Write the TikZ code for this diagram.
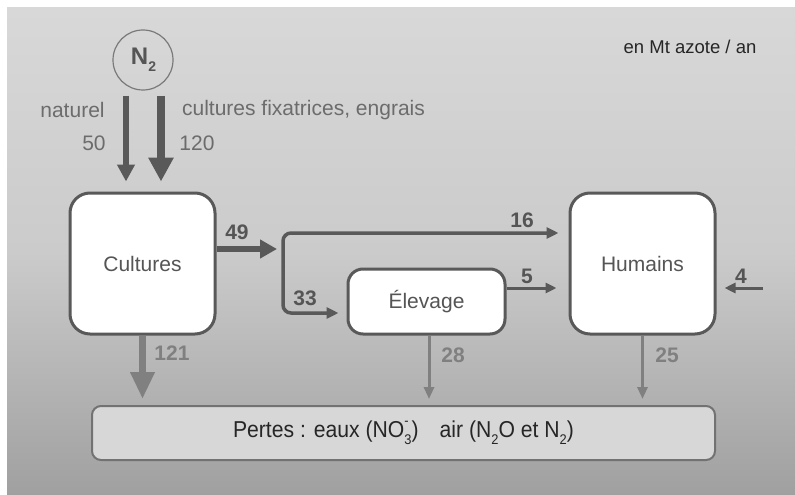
\documentclass[tikz,border=0pt]{standalone}
\usepackage{fontspec}
\usepackage{graphicx}
\setmainfont{Liberation Sans}
\usetikzlibrary{arrows.meta,calc}
\definecolor{bgTop}{HTML}{D8D8D8}
\definecolor{bgMid}{HTML}{CBCBCB}
\definecolor{bgBot}{HTML}{A0A0A0}
\definecolor{dk}{HTML}{595959}
\definecolor{boxtxt}{HTML}{555555}
\definecolor{lbltxt}{HTML}{6C6C6C}
\definecolor{bot}{HTML}{808080}
\definecolor{pfill}{HTML}{D7D7D7}
\definecolor{pline}{HTML}{727272}
\definecolor{circ}{HTML}{7A7A7A}
\definecolor{txtdark}{HTML}{262626}
\newcommand\subt[1]{\raisebox{-0.3em}{\fontsize{14}{14}\selectfont #1}}
\newcommand\subsup[2]{\rlap{\raisebox{0.55em}{\fontsize{14}{14}\selectfont #2}}\raisebox{-0.3em}{\fontsize{14}{14}\selectfont #1}}
\begin{document}
\begin{tikzpicture}[x=1pt,y=-1pt,
  bigbox/.style={draw=dk, line width=3pt, fill=white, rounded corners=20pt,
    text=boxtxt, font=\fontsize{21}{25}\selectfont, inner sep=0pt},
  pertesbox/.style={draw=pline, line width=2pt, fill=pfill, rounded corners=9pt,
    text=txtdark, font=\fontsize{23}{27}\selectfont, inner sep=0pt},
  lbl/.style={text=lbltxt, font=\fontsize{21}{25}\selectfont, inner sep=0pt},
  blbl/.style={text=boxtxt, font=\fontsize{21}{25}\selectfont\bfseries, inner sep=0pt},
  botlbl/.style={text=bot, font=\fontsize{21}{25}\selectfont\bfseries, inner sep=0pt},
  arrtopa/.style={draw=dk, line width=6pt, -{Triangle[length=17pt,width=17pt]}},
  arrtopb/.style={draw=dk, line width=8pt, -{Triangle[length=24pt,width=24pt]}},
  arrfortynine/.style={draw=dk, line width=6pt, -{Triangle[length=17pt,width=18pt]}},
  conn/.style={draw=dk, line width=3.5pt, {Triangle[length=12pt,width=11pt]}-{Triangle[length=12pt,width=11pt]}, rounded corners=8pt},
  thinarr/.style={draw=dk, line width=3pt, -{Triangle[length=11pt,width=10pt]}},
  arrbig/.style={draw=bot, line width=7pt, -{Triangle[length=27pt,width=23pt]}},
  thinbot/.style={draw=bot, line width=3pt, -{Triangle[length=12pt,width=10pt]}}
]
\useasboundingbox (0,0) rectangle (795,495);
\fill[white] (0,0) rectangle (795,495);
\shade[top color=bgTop, bottom color=bgBot, middle color=bgMid] (7,8) rectangle (795,495);

% nodes
\node[circle, draw=circ, line width=1.2pt, minimum size=60pt, inner sep=0pt,
  text=boxtxt, font=\fontsize{24}{28}\selectfont\bfseries] (n2) at (143,60) {\hspace{1pt}N\subt{2}};
\node[bigbox, minimum width=145pt, minimum height=141pt] (cult) at (142.5,263.5) {Cultures};
\node[bigbox, rounded corners=15pt, minimum width=157pt, minimum height=65pt] (elev) at (426.5,301.5) {Élevage};
\node[bigbox, minimum width=145pt, minimum height=141pt] (hum) at (642.5,263.5) {Humains};
\node[pertesbox, minimum width=623pt, minimum height=54pt] (pert) at (403.5,433)
  {\scalebox{0.92}[1]{Pertes : eaux (NO\subsup{3}{-})\quad air (N\subt{2}O et N\subt{2})}};

% labels
\node[text=txtdark, font=\fontsize{18.5}{22}\selectfont, inner sep=0pt] (unit) at (690,47) {en Mt azote / an};
\node[lbl] (lnat) at (72.5,110) {naturel};
\node[lbl] (l50) at (94,143) {50};
\node[lbl] (lcf) at (303.5,110) {cultures fixatrices, engrais};
\node[lbl] (l120) at (197,143) {120};
\node[blbl] (l49) at (237,232) {49};
\node[blbl] (l16) at (522,220) {16};
\node[blbl] (l33) at (305,298) {33};
\node[blbl] (l5) at (527,276) {5};
\node[blbl] (l4) at (741,276) {4};
\node[botlbl] (l121) at (172,353) {121};
\node[botlbl] (l28) at (453,355) {28};
\node[botlbl] (l25) at (667,355) {25};

% coordinates
\path (n2.south) ++(-17pt,-5pt) coordinate (s1);
\path (n2.south) ++(18pt,-5pt) coordinate (s2);
\coordinate (e49) at (277,249);
\coordinate (k1) at (283,233);
\coordinate (k2) at (283,313);
\coordinate (y5) at (530,288);
\coordinate (s4) at (763,288);
\path (elev.south) ++(2.5pt,0pt) coordinate (s28);

% connectors
\draw[arrtopa, shorten >=10pt] (s1) -- (s1 |- cult.north);
\draw[arrtopb, shorten >=10pt] (s2) -- (s2 |- cult.north);
\draw[arrfortynine] (cult.east |- e49) -- (e49);
\draw[conn, shorten <=10pt, shorten >=8pt] (hum.west |- k1) -- (k1) -- (k2) -- (elev.west |- k2);
\draw[thinarr, shorten >=12pt] (elev.east |- y5) -- (hum.west |- y5);
\draw[thinarr, shorten >=8pt] (s4) -- (hum.east |- s4);
\draw[arrbig, shorten >=6pt] (cult.south) -- (cult.south |- pert.north);
\draw[thinbot, shorten >=6pt] (s28) -- (s28 |- pert.north);
\draw[thinbot, shorten >=6pt] (hum.south) -- (hum.south |- pert.north);
\end{tikzpicture}
\end{document}
